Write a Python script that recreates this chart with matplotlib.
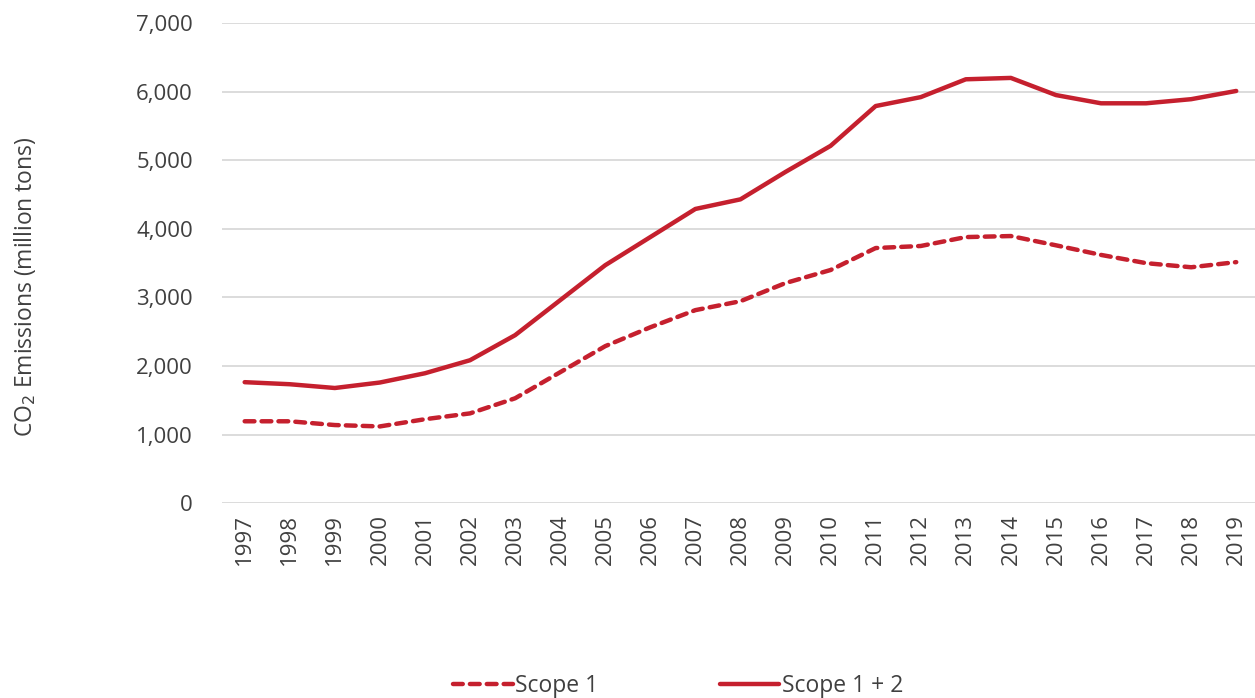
import numpy as np
import matplotlib.pyplot as plt
from matplotlib.ticker import FuncFormatter

plt.rcParams['font.family'] = ['Open Sans', 'DejaVu Sans']

# Data
years = list(range(1997, 2020))
scope1 = [1195, 1195, 1140, 1120, 1225, 1310, 1530, 1910, 2290, 2565, 2815, 2945,
          3210, 3400, 3720, 3750, 3880, 3895, 3760, 3620, 3500, 3440, 3515]
scope12 = [1765, 1735, 1680, 1760, 1895, 2085, 2450, 2960, 3470, 3880, 4290, 4430,
           4830, 5210, 5790, 5920, 6180, 6200, 5950, 5830, 5830, 5890, 6010]

red = '#C5202E'
text_col = '#404040'

fig = plt.figure(figsize=(12.55, 6.98), dpi=100)
ax = fig.add_axes([0.177, 0.279, 0.826, 0.688])

ax.plot(years, scope1, color=red, lw=3.2, ls=(0, (2.2, 1.6)),
        dash_capstyle='round', solid_capstyle='round', label='Scope 1')
ax.plot(years, scope12, color=red, lw=3.2, solid_capstyle='round', label='Scope 1 + 2')

ax.set_xlim(1996.5, 2019.5)
ax.set_ylim(0, 7000)
ax.set_yticks(np.arange(0, 7001, 1000))
ax.yaxis.set_major_formatter(FuncFormatter(lambda v, p: f'{int(v):,}'))
ax.set_xticks(years)
ax.set_xticklabels([str(y) for y in years], rotation=90)

ax.grid(axis='y', color='#d9d9d9', lw=1.3)
ax.set_axisbelow(True)
for s in ax.spines.values():
    s.set_visible(False)
ax.tick_params(length=0, labelsize=16, labelcolor=text_col, pad=8)
ax.tick_params(axis='y', pad=21)

ax.set_ylabel('CO$_2$ Emissions (million tons)', fontsize=16.5, color=text_col)
ax.yaxis.set_label_coords(-0.178, 0.45)

ax.legend(loc='center', bbox_to_anchor=(0.44, -0.381), ncol=2, frameon=False,
          fontsize=16.5, labelcolor=text_col, handlelength=2.6, handletextpad=0.1,
          columnspacing=5.3)

fig.savefig('out.png', dpi=100)
